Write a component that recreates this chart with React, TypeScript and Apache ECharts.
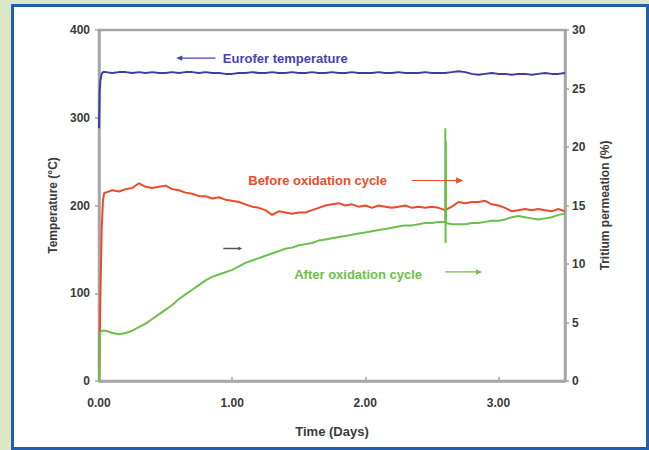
import React, { useEffect, useRef } from "react";
import * as echarts from "echarts";

// ---- data ----
const sampleDays = [
  0.05, 0.1, 0.15, 0.2, 0.25, 0.3, 0.35, 0.4, 0.45, 0.5,
  0.55, 0.6, 0.65, 0.7, 0.75, 0.8, 0.85, 0.9, 0.95, 1.0,
  1.05, 1.1, 1.15, 1.2, 1.25, 1.3, 1.35, 1.4, 1.45, 1.5,
  1.55, 1.6, 1.65, 1.7, 1.75, 1.8, 1.85, 1.9, 1.95, 2.0,
  2.05, 2.1, 2.15, 2.2, 2.25, 2.3, 2.35, 2.4, 2.45, 2.5,
  2.55, 2.6, 2.65, 2.7, 2.75, 2.8, 2.85, 2.9, 2.95, 3.0,
  3.05, 3.1, 3.15, 3.2, 3.25, 3.3, 3.35, 3.4, 3.45, 3.5,
];

// Eurofer temperature (°C, left axis)
const blueStartDays = [0, 0.005, 0.01, 0.02, 0.03];
const blueStartValues = [288, 330, 342, 350, 352];
const blueValues = [
  352, 351, 352, 352, 351, 352, 351, 352, 351, 351,
  352, 351, 352, 352, 351, 352, 351, 351, 350, 350,
  351, 351, 352, 351, 351, 352, 351, 351, 352, 351,
  351, 352, 351, 351, 352, 351, 351, 352, 351, 351,
  351, 352, 351, 351, 352, 351, 351, 351, 352, 351,
  351, 351, 352, 353, 352, 350, 349, 350, 351, 350,
  350, 349, 350, 350, 349, 350, 351, 350, 350, 351,
];

// Before oxidation cycle (%, right axis)
const redStartDays = [0, 0.01, 0.02, 0.03, 0.04];
const redStartValues = [0, 7, 13, 15.5, 16.1];
const redValues = [
  16.1, 16.3, 16.2, 16.4, 16.5, 16.9, 16.6, 16.5, 16.6, 16.7,
  16.4, 16.3, 16.1, 16.0, 15.8, 15.8, 15.6, 15.7, 15.5, 15.4,
  15.3, 15.1, 14.9, 14.8, 14.6, 14.2, 14.5, 14.4, 14.3, 14.4,
  14.4, 14.6, 14.8, 15.0, 15.1, 15.2, 15.0, 15.1, 14.9, 15.0,
  14.8, 15.0, 14.9, 14.8, 14.9, 15.0, 14.8, 14.9, 14.8, 14.9,
  14.8, 14.6, 14.9, 15.3, 15.2, 15.3, 15.3, 15.4, 15.1, 15.0,
  14.8, 14.5, 14.6, 14.7, 14.6, 14.7, 14.6, 14.5, 14.7, 14.5,
];

// After oxidation cycle (%, right axis)
const greenStartDays = [0, 0.005, 0.01, 0.02];
const greenStartValues = [0, 2.5, 4.2, 4.3];
const greenValues = [
  4.3, 4.1, 4.0, 4.1, 4.3, 4.6, 4.9, 5.3, 5.7, 6.1,
  6.5, 7.0, 7.4, 7.8, 8.2, 8.6, 8.9, 9.1, 9.3, 9.5,
  9.8, 10.1, 10.3, 10.5, 10.7, 10.9, 11.1, 11.3, 11.4, 11.6,
  11.7, 11.8, 12.0, 12.1, 12.2, 12.3, 12.4, 12.5, 12.6, 12.7,
  12.8, 12.9, 13.0, 13.1, 13.2, 13.3, 13.3, 13.4, 13.5, 13.5,
  13.6, 13.6, 13.4, 13.4, 13.4, 13.5, 13.5, 13.6, 13.7, 13.7,
  13.8, 14.0, 14.1, 14.0, 13.9, 13.8, 13.9, 14.0, 14.2, 14.3,
];
const greenSpikeDays = [2.601, 2.603, 2.605, 2.607];
const greenSpikeValues = [21.6, 11.8, 20.5, 13.5];

const xTicks = [0, 1, 2, 3];

const FONT = "Liberation Sans, Arial, sans-serif";
const BLUE = "#3d3d9e";
const RED = "#ec4a2a";
const GREEN = "#6cc04a";
const AXIS = "#a6a6a6";
const LABEL = "#3a3a3a";

function pairs(days: number[], values: number[]) {
  return days.map((d, i) => [d, values[i]]);
}

function buildGreen() {
  const out: number[][] = pairs(greenStartDays, greenStartValues);
  sampleDays.forEach((d, i) => {
    out.push([d, greenValues[i]]);
    if (d === 2.6) {
      greenSpikeDays.forEach((sd, j) => out.push([sd, greenSpikeValues[j]]));
    }
  });
  return out;
}

export default function App() {
  const ref = useRef<HTMLDivElement>(null);
  useEffect(() => {
    if (!ref.current) return;
    const chart = echarts.init(ref.current, undefined, { renderer: "svg" });
    const option: any = {
      animation: false,
      backgroundColor: "#dbe8c3",
      grid: {
        left: 99,
        right: 84,
        top: 30,
        bottom: 69,
        show: true,
        borderColor: AXIS,
        borderWidth: 2.5,
        backgroundColor: "#ffffff",
      },
      xAxis: {
        type: "value",
        min: 0,
        max: 3.5,
        interval: 1,
        name: "Time (Days)",
        nameLocation: "middle",
        nameGap: 44,
        nameTextStyle: { fontFamily: FONT, fontWeight: "bold", fontSize: 13, color: LABEL },
        axisLine: { lineStyle: { color: AXIS, width: 2.5 } },
        axisTick: { inside: true, length: 4, lineStyle: { color: AXIS, width: 1.5 } },
        splitLine: { show: false },
        axisLabel: {
          margin: 16,
          showMaxLabel: false,
          fontFamily: FONT,
          fontWeight: "bold",
          fontSize: 12,
          color: LABEL,
          formatter: (v: number) => (xTicks.includes(v) ? v.toFixed(2) : ""),
        },
      },
      yAxis: [
        {
          type: "value",
          min: 0,
          max: 400,
          interval: 100,
          name: "Temperature (°C)",
          nameLocation: "middle",
          nameRotate: 90,
          nameGap: 40,
          nameTextStyle: { fontFamily: FONT, fontWeight: "bold", fontSize: 12, color: LABEL },
          axisLine: { show: true, lineStyle: { color: AXIS, width: 2.5 } },
          axisTick: { show: true, length: 4, lineStyle: { color: AXIS, width: 1.5 } },
          splitLine: { show: false },
          axisLabel: { margin: 9, fontFamily: FONT, fontWeight: "bold", fontSize: 12, color: LABEL },
        },
        {
          type: "value",
          min: 0,
          max: 30,
          interval: 5,
          position: "right",
          name: "Tritium permeation (%)",
          nameLocation: "middle",
          nameRotate: 90,
          nameGap: 34,
          nameTextStyle: { fontFamily: FONT, fontWeight: "bold", fontSize: 12, color: LABEL },
          axisLine: { show: true, lineStyle: { color: AXIS, width: 2.5 } },
          axisTick: { show: true, length: 4, lineStyle: { color: AXIS, width: 1.5 } },
          splitLine: { show: false },
          axisLabel: { margin: 7, fontFamily: FONT, fontWeight: "bold", fontSize: 12, color: LABEL },
        },
      ],
      series: [
        {
          name: "Eurofer temperature",
          type: "line",
          yAxisIndex: 0,
          showSymbol: false,
          data: [
            ...pairs(blueStartDays, blueStartValues),
            ...pairs(sampleDays, blueValues),
          ],
          lineStyle: { color: BLUE, width: 2 },
          itemStyle: { color: BLUE },
        },
        {
          name: "Before oxidation cycle",
          type: "line",
          yAxisIndex: 1,
          showSymbol: false,
          data: [
            ...pairs(redStartDays, redStartValues),
            ...pairs(sampleDays, redValues),
          ],
          lineStyle: { color: RED, width: 2 },
          itemStyle: { color: RED },
        },
        {
          name: "After oxidation cycle",
          type: "line",
          yAxisIndex: 1,
          showSymbol: false,
          data: buildGreen(),
          lineStyle: { color: GREEN, width: 2 },
          itemStyle: { color: GREEN },
        },
      ],
    };
    chart.setOption(option);

    const px = (d: number, t: number) =>
      chart.convertToPixel({ xAxisIndex: 0, yAxisIndex: 0 } as any, [d, t]) as number[];

    const arrow = (from: number[], to: number[], color: string, w: number, head: number) => {
      const a = px(from[0], from[1]);
      const b = px(to[0], to[1]);
      const dir = b[0] > a[0] ? 1 : -1;
      return [
        {
          type: "line",
          shape: { x1: a[0], y1: a[1], x2: b[0] - dir * head * 0.6, y2: b[1] },
          style: { stroke: color, lineWidth: w },
          z: 100,
        },
        {
          type: "polygon",
          shape: {
            points: [
              [b[0], b[1]],
              [b[0] - dir * head, b[1] - head * 0.45],
              [b[0] - dir * head, b[1] + head * 0.45],
            ],
          },
          style: { fill: color },
          z: 100,
        },
      ];
    };

    const label = (text: string, d: number, t: number, color: string) => {
      const p = px(d, t);
      return {
        type: "text",
        x: p[0],
        y: p[1],
        z: 100,
        style: {
          text,
          fill: color,
          font: `bold 13px ${FONT}`,
          textAlign: "left",
          textVerticalAlign: "middle",
        },
      };
    };

    chart.setOption({
      graphic: [
        {
          type: "rect",
          shape: { x: 12.5, y: 5.5, width: 635, height: 443 },
          style: { fill: "#ffffff", stroke: "#1f5fae", lineWidth: 3 },
          z: -10,
          silent: true,
        },
        label("Eurofer temperature", 0.93, 368, "#4545aa"),
        ...arrow([0.875, 368], [0.58, 368], "#4545aa", 1.2, 6),
        label("Before oxidation cycle", 1.121, 228, RED),
        ...arrow([2.35, 228.5], [2.735, 228.5], RED, 1.2, 7),
        label("After oxidation cycle", 1.466, 121, GREEN),
        ...arrow([2.6, 124.3], [2.877, 124.3], GREEN, 1.2, 6),
        ...arrow([0.934, 151], [1.076, 151], "#555555", 1.5, 4),
      ],
    });

    return () => chart.dispose();
  }, []);

  return (
    <div
      ref={ref}
      style={{ position: "fixed", left: 0, top: 0, width: 649, height: 450 }}
    />
  );
}
